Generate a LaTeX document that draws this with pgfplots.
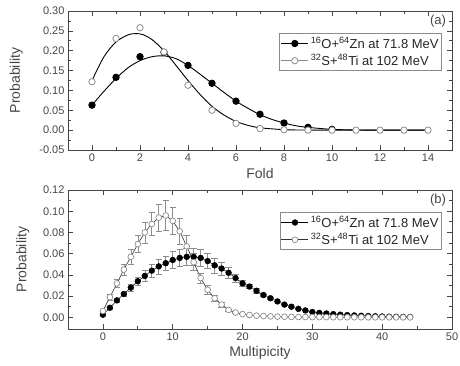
\documentclass[border=0pt]{standalone}
\usepackage{pgfplots}
\pgfplotsset{compat=1.18}
\usepackage{fontspec}
\setmainfont{Liberation Sans}
\definecolor{opengray}{RGB}{140,140,140}
\definecolor{axgray}{RGB}{70,70,70}
\begin{document}
\begin{tikzpicture}
\useasboundingbox (-68pt,-354pt) rectangle (392pt,11pt);
\pgfplotsset{
  myax/.style={
    scale only axis, width=384pt, height=139pt,
    anchor=north west,
    tick align=inside,
    axis line style={draw=axgray, line width=0.8pt},
    every tick/.style={axgray, line width=0.7pt},
    major tick length=5pt, minor tick length=3pt,
    /pgf/number format/assume math mode=true,
    ticklabel style={font=\fontsize{11}{13}\selectfont, text=axgray},
    label style={font=\fontsize{14}{15}\selectfont, text=axgray},
    ylabel style={at={(axis description cs:-0.135,0.5)}, anchor=center},
    xlabel style={at={(axis description cs:0.5,-0.172)}, anchor=center},
    legend cell align=left,
    legend style={at={(axis description cs:1,1)}, anchor=north east,
      xshift=-10pt, yshift=-22pt, draw=black!45, line width=0.8pt,
      font=\fontsize{13}{14}\selectfont, text=black!85,
      inner xsep=1pt, inner ysep=2pt, row sep=1pt},
    legend image code/.code={
      \draw[#1, mark=none] (0cm,0cm) -- (0.95cm,0cm);
      \draw[#1, only marks] plot coordinates {(0.475cm,0cm)};
    },
    y tick label style={/pgf/number format/.cd, fixed, fixed zerofill, precision=2},
  },
}
% ---------------- panel (a) ----------------
\begin{axis}[myax, at={(0pt,0pt)},
  xmin=-1, xmax=15, ymin=-0.05, ymax=0.30,
  xtick={0,2,...,14}, minor xtick={1,3,...,13},
  ytick={-0.05,0,0.05,0.10,0.15,0.20,0.25,0.30},
  minor ytick={-0.025,0.025,0.075,0.125,0.175,0.225,0.275},
  xlabel={Fold}, ylabel={Probability},
]
% fitted curves
\addplot[black, line width=0.9pt, smooth, forget plot] coordinates {
 (0,0.063)(0.5,0.098)(1,0.130)(1.5,0.157)(2,0.175)(2.5,0.185)(3,0.187)(3.5,0.180)
 (4,0.163)(4.5,0.141)(5,0.118)(5.5,0.095)(6,0.073)(6.5,0.055)(7,0.039)(7.5,0.027)
 (8,0.018)(8.5,0.011)(9,0.007)(10,0.002)(11,0.0005)(12,0)(13,0)(14,0)};
\addplot[black, line width=0.9pt, smooth, forget plot] coordinates {
 (0,0.125)(0.5,0.185)(1,0.222)(1.5,0.240)(1.8,0.243)(2.1,0.241)(2.5,0.228)(3,0.200)
 (3.5,0.163)(4,0.125)(4.5,0.090)(5,0.060)(5.5,0.038)(6,0.022)(6.5,0.012)(7,0.006)
 (8,0.0012)(9,0.0002)(10,0)(12,0)(14,0)};
% data
\addplot[black, line width=0.9pt, mark=*, mark size=3.2pt, only marks,
  mark options={fill=black}] coordinates {
 (0,0.063)(1,0.133)(2,0.185)(3,0.196)(4,0.163)(5,0.118)(6,0.073)(7,0.040)
 (8,0.018)(9,0.007)(10,0.002)};
\addlegendentry{\textsuperscript{16}O+\textsuperscript{64}Zn at 71.8 MeV}
\addplot[opengray, line width=0.8pt, mark=*, mark size=3.2pt, only marks,
  mark options={draw=opengray, fill=white}] coordinates {
 (0,0.122)(1,0.231)(2,0.258)(3,0.197)(4,0.113)(5,0.050)(6,0.017)(7,0.004)
 (8,0.001)(9,0)(10,0)(11,0)(12,0)(13,0)(14,0)};
\addlegendentry{\textsuperscript{32}S+\textsuperscript{48}Ti at 102 MeV}
\node[anchor=north east, font=\fontsize{13}{14}\selectfont, text=axgray, inner sep=0pt]
  at (axis description cs:0.985,0.975) {(a)};
\end{axis}
% ---------------- panel (b) ----------------
\begin{axis}[myax, at={(0pt,-179pt)},
  xmin=-5, xmax=50, ymin=-0.011, ymax=0.12,
  xtick={0,10,...,50}, minor xtick={5,15,...,45},
  ytick={0,0.02,...,0.121},
  minor ytick={0.01,0.03,0.05,0.07,0.09,0.11},
  xlabel={Multipicity}, ylabel={Probability},
  ylabel style={at={(axis description cs:-0.118,0.5)}},
  clip=false,
]
\addplot[black, line width=0.5pt, mark=*, mark size=2.9pt,
  mark options={fill=black, solid},
  error bars/.cd, y dir=both, y explicit,
  error bar style={opengray, line width=0.6pt}, error mark options={rotate=90, mark size=3.2pt, opengray}]
  table[x=x, y=y, y error=e] {
x y e
0 0.0025 0
1 0.009 0.001
2 0.016 0.0015
3 0.022 0.002
4 0.028 0.003
5 0.034 0.004
6 0.039 0.005
7 0.044 0.006
8 0.048 0.007
9 0.051 0.007
10 0.054 0.008
11 0.056 0.008
12 0.057 0.008
13 0.057 0.008
14 0.056 0.008
15 0.053 0.007
16 0.049 0.007
17 0.046 0.006
18 0.042 0.005
19 0.037 0.004
20 0.032 0.003
21 0.029 0.002
22 0.025 0.002
23 0.021 0.001
24 0.018 0.001
25 0.015 0
26 0.012 0
27 0.010 0
28 0.008 0
29 0.0065 0
30 0.005 0
31 0.0042 0
32 0.0036 0
33 0.003 0
34 0.0025 0
35 0.0021 0
36 0.0018 0
37 0.0015 0
38 0.0012 0
39 0.001 0
40 0.0008 0
41 0.0006 0
42 0.0005 0
43 0.0004 0
44 0.0003 0
};
\addlegendentry{\textsuperscript{16}O+\textsuperscript{64}Zn at 71.8 MeV}
\addplot[black!80, line width=0.6pt, mark=*, mark size=2.9pt,
  mark options={draw=opengray, fill=white, solid, line width=0.7pt},
  error bars/.cd, y dir=both, y explicit,
  error bar style={opengray, line width=0.6pt}, error mark options={rotate=90, mark size=3.2pt, opengray}]
  table[x=x, y=y, y error=e] {
x y e
0 0.006 0.001
1 0.019 0.003
2 0.032 0.004
3 0.045 0.005
4 0.057 0.007
5 0.069 0.008
6 0.080 0.010
7 0.088 0.011
8 0.094 0.013
9 0.096 0.014
10 0.091 0.013
11 0.081 0.012
12 0.067 0.010
13 0.052 0.008
14 0.037 0.005
15 0.026 0.004
16 0.018 0.003
17 0.012 0.002
18 0.007 0.001
19 0.0045 0.0007
20 0.003 0
21 0.0022 0
22 0.0016 0
23 0.0012 0
24 0.0009 0
25 0.0007 0
26 0.0005 0
27 0.0004 0
28 0.0003 0
29 0.0003 0
30 0.0002 0
31 0.0002 0
32 0.0002 0
33 0.0001 0
34 0.0001 0
35 0.0001 0
36 0.0001 0
37 0.0001 0
38 0 0
39 0 0
40 0 0
41 0 0
42 0 0
43 0 0
44 0 0
};
\addlegendentry{\textsuperscript{32}S+\textsuperscript{48}Ti at 102 MeV}
\node[anchor=north east, font=\fontsize{13}{14}\selectfont, text=axgray, inner sep=0pt]
  at (axis description cs:0.985,0.975) {(b)};
\end{axis}
\end{tikzpicture}
\end{document}
